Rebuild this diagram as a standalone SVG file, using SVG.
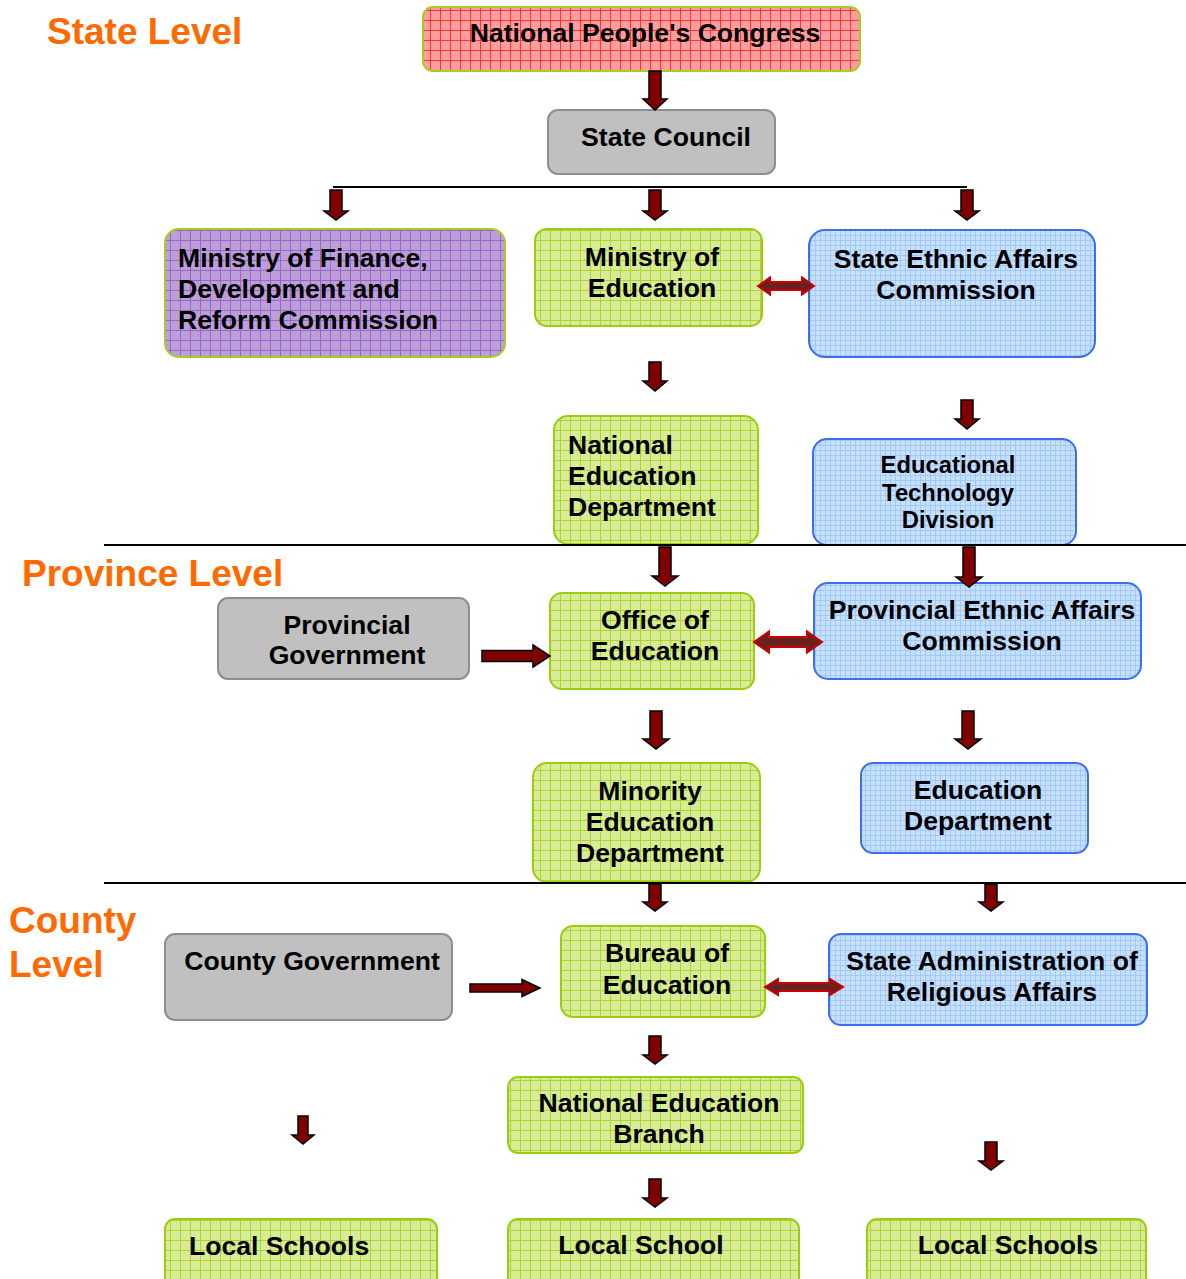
<svg xmlns="http://www.w3.org/2000/svg" width="1186" height="1279" viewBox="0 0 1186 1279">
<defs>
<pattern id="pRed" width="10" height="10" patternUnits="userSpaceOnUse"><rect width="10" height="10" fill="#ff9e9e"/><path d="M0 0.5H10M0.5 0V10" stroke="#ff3434" stroke-width="1"/></pattern>
<pattern id="pPurple" width="10" height="10" patternUnits="userSpaceOnUse"><rect width="10" height="10" fill="#bc9fd8"/><path d="M0 0.5H10M0.5 0V10" stroke="#9866c8" stroke-width="1"/></pattern>
<pattern id="pGreen" width="10" height="10" patternUnits="userSpaceOnUse"><rect width="10" height="10" fill="#d8ec98"/><path d="M0 0.5H10M0.5 0V10" stroke="#acd530" stroke-width="1"/></pattern>
<pattern id="pBlue" width="5" height="5" patternUnits="userSpaceOnUse"><rect width="5" height="5" fill="#c6e0ff"/><path d="M0 0.5H5M0.5 0V5" stroke="#a4c9f6" stroke-width="1"/></pattern>
</defs>
<style>
text{font-family:"Liberation Sans",Arial,sans-serif;font-weight:bold;fill:#000}
.t{font-size:26.6px}
.s{font-size:23.8px}
.lvl{font-size:37px;fill:#ff6a00}
.c{text-anchor:middle}
.red{fill:url(#pRed);stroke:#a6cc20;stroke-width:2}
.pur{fill:url(#pPurple);stroke:#a6cc20;stroke-width:2}
.grn{fill:url(#pGreen);stroke:#9ccc10;stroke-width:2}
.blu{fill:url(#pBlue);stroke:#3e6ef0;stroke-width:2}
.gry{fill:#c0c0c0;stroke:#8e8e8e;stroke-width:2}
.ln{stroke:#000;stroke-width:2;fill:none}
.ar{fill:#800000;stroke:#000;stroke-width:1.5;stroke-linejoin:miter}
.da{fill:#6b2020;stroke:#cc0000;stroke-width:2}
</style>
<g id="labels">
<text class="lvl" x="47" y="44">State Level</text>
<text class="lvl" x="22" y="586">Province Level</text>
<text class="lvl" x="9" y="933">County</text>
<text class="lvl" x="9" y="977">Level</text>
</g>
<g id="npc"><rect class="red" x="423" y="7" width="437" height="64" rx="10"/><text class="t c" x="645" y="42">National People's Congress</text></g>
<g id="state-council"><rect class="gry" x="548" y="110" width="227" height="64" rx="10"/><text class="t c" x="666" y="146">State Council</text></g>
<g id="ministry-finance"><rect class="pur" x="165" y="229" width="340" height="128" rx="14"/><text class="t" x="178" y="267">Ministry of Finance,</text><text class="t" x="178" y="298">Development and</text><text class="t" x="178" y="329">Reform Commission</text></g>
<g id="ministry-education"><rect class="grn" x="535" y="229" width="227" height="97" rx="12"/><text class="t c" x="652" y="266">Ministry of</text><text class="t c" x="652" y="297">Education</text></g>
<g id="state-ethnic"><rect class="blu" x="809" y="230" width="286" height="127" rx="16"/><text class="t c" x="956" y="268">State Ethnic Affairs</text><text class="t c" x="956" y="299">Commission</text></g>
<g id="national-ed-dept"><rect class="grn" x="554" y="416" width="204" height="128" rx="14"/><text class="t" x="568" y="454">National</text><text class="t" x="568" y="485">Education</text><text class="t" x="568" y="516">Department</text></g>
<g id="ed-tech-division"><rect class="blu" x="813" y="439" width="263" height="106" rx="14"/><text class="s c" x="948" y="473">Educational</text><text class="s c" x="948" y="501">Technology</text><text class="s c" x="948" y="528">Division</text></g>
<g id="provincial-gov"><rect class="gry" x="218" y="598" width="251" height="81" rx="10"/><text class="t c" x="347" y="634">Provincial</text><text class="t c" x="347" y="664">Government</text></g>
<g id="office-education"><rect class="grn" x="550" y="593" width="204" height="96" rx="12"/><text class="t c" x="655" y="629">Office of</text><text class="t c" x="655" y="660">Education</text></g>
<g id="provincial-ethnic"><rect class="blu" x="814" y="583" width="327" height="96" rx="14"/><text class="t c" x="982" y="619">Provincial Ethnic Affairs</text><text class="t c" x="982" y="650">Commission</text></g>
<g id="minority-ed-dept"><rect class="grn" x="533" y="763" width="227" height="119" rx="14"/><text class="t c" x="650" y="800">Minority</text><text class="t c" x="650" y="831">Education</text><text class="t c" x="650" y="862">Department</text></g>
<g id="education-dept"><rect class="blu" x="861" y="763" width="227" height="90" rx="12"/><text class="t c" x="978" y="799">Education</text><text class="t c" x="978" y="830">Department</text></g>
<g id="county-gov"><rect class="gry" x="165" y="934" width="287" height="86" rx="10"/><text class="t c" x="312" y="970">County Government</text></g>
<g id="bureau-education"><rect class="grn" x="561" y="926" width="204" height="91" rx="12"/><text class="t c" x="667" y="962">Bureau of</text><text class="t c" x="667" y="994">Education</text></g>
<g id="religious-affairs"><rect class="blu" x="829" y="934" width="318" height="91" rx="12"/><text class="t c" x="992" y="970">State Administration of</text><text class="t c" x="992" y="1001">Religious Affairs</text></g>
<g id="national-ed-branch"><rect class="grn" x="508" y="1077" width="295" height="76" rx="10"/><text class="t c" x="659" y="1112">National Education</text><text class="t c" x="659" y="1143">Branch</text></g>
<g id="local-schools-left"><rect class="grn" x="165" y="1219" width="272" height="72" rx="10"/><text class="t" x="189" y="1255">Local Schools</text></g>
<g id="local-school-mid"><rect class="grn" x="508" y="1219" width="291" height="72" rx="10"/><text class="t c" x="641" y="1254">Local School</text></g>
<g id="local-schools-right"><rect class="grn" x="867" y="1219" width="279" height="72" rx="10"/><text class="t c" x="1008" y="1254">Local Schools</text></g>
<g id="connectors">
<path class="ln" d="M333 187H967"/>
<path class="ln" d="M104 545H1186"/>
<path class="ln" d="M104 883H1186"/>
<path class="ar" d="M649 71H661V99H667L655 110L643 99H649Z"/>
<path class="ar" d="M330 190H342V211H348L336 220L324 211H330Z"/>
<path class="ar" d="M649 190H661V211H667L655 220L643 211H649Z"/>
<path class="ar" d="M961 190H973V211H979L967 220L955 211H961Z"/>
<path class="ar" d="M649 362H661V381H667L655 391L643 381H649Z"/>
<path class="ar" d="M961 400H973V419H979L967 429L955 419H961Z"/>
<path class="ar" d="M659 547H671V576H678L665 586L652 576H659Z"/>
<path class="ar" d="M963 547H975V577H982L969 587L956 577H963Z"/>
<path class="ar" d="M650 711H662V739H669L656 749L643 739H650Z"/>
<path class="ar" d="M962 711H974V739H981L968 749L955 739H962Z"/>
<path class="ar" d="M649 884H661V902H667L655 911L643 902H649Z"/>
<path class="ar" d="M985 884H997V902H1003L991 911L979 902H985Z"/>
<path class="ar" d="M649 1036H661V1055H667L655 1064L643 1055H649Z"/>
<path class="ar" d="M649 1179H661V1198H667L655 1207L643 1198H649Z"/>
<path class="ar" d="M298 1116H308V1135H314L303 1144L292 1135H298Z"/>
<path class="ar" d="M985 1142H997V1161H1003L991 1170L979 1161H985Z"/>
<path class="ar" d="M482 650.5H533V645L550 656L533 667V661.5H482Z"/>
<path class="ar" d="M470 984H522V979.5L540 988L522 996.5V992H470Z"/>
<path class="da" d="M758 286L770 277.5V282H802V277.5L814 286L802 294.5V290H770V294.5Z"/>
<path class="da" d="M754 642L769 631.5V637H807V631.5L822 642L807 652.5V647H769V652.5Z"/>
<path class="da" d="M765 987L778 979V983H830V979L843 987L830 995V991H778V995Z"/>
</g>
</svg>
